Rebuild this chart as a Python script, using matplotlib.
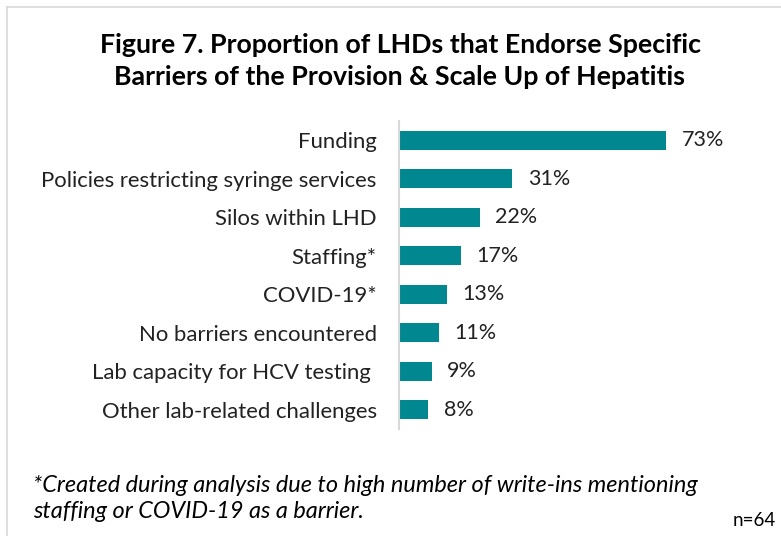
import matplotlib.pyplot as plt
from matplotlib.lines import Line2D

plt.rcParams['font.family'] = ['Lato', 'DejaVu Sans']

categories = ['Funding', 'Policies restricting syringe services', 'Silos within LHD',
              'Staffing*', 'COVID-19*', 'No barriers encountered',
              'Lab capacity for HCV testing ', 'Other lab-related challenges']
values = [73, 31, 22, 17, 13, 11, 9, 8]
bar_color = '#00878F'

W, H = 781, 536
fig = plt.figure(figsize=(W / 100, H / 100), dpi=100)

# axes placed in pixel terms: left edge x=399, 3.66 px per percent
x0, y_top, y_bot = 399, 121, 429
xmax = 80
ax = fig.add_axes([x0 / W, 1 - y_bot / H, xmax * 3.66 / W, (y_bot - y_top) / H])

ypos = list(range(len(categories)))
ax.barh(ypos, values, height=0.5, color=bar_color)
ax.set_ylim(len(categories) - 0.5, -0.5)
ax.set_xlim(0, xmax)
for y, v in zip(ypos, values):
    ax.text(v + 4.2, y, f'{v}%', va='center', ha='left', fontsize=15.5, color='#222222')

ax.set_yticks(ypos)
ax.set_yticklabels(categories, fontsize=15.9, color='#222222')
ax.tick_params(axis='y', length=0, pad=16)
ax.set_xticks([])
for s in ['top', 'right', 'bottom']:
    ax.spines[s].set_visible(False)
ax.spines['left'].set_color('#d9d9d9')
ax.spines['left'].set_linewidth(1.5)

fig.text(400 / W, 1 - 45 / H, 'Figure 7. Proportion of LHDs that Endorse Specific',
         ha='center', va='center', fontsize=19.3, fontweight='bold')
fig.text(400 / W, 1 - 77 / H, 'Barriers of the Provision & Scale Up of Hepatitis',
         ha='center', va='center', fontsize=19.3, fontweight='bold')

fig.text(33 / W, 1 - 485 / H, '*Created during analysis due to high number of write-ins mentioning',
         ha='left', va='center', fontsize=16.9, style='italic')
fig.text(33 / W, 1 - 512 / H, 'staffing or COVID-19 as a barrier.',
         ha='left', va='center', fontsize=16.9, style='italic')
fig.text(776 / W, 1 - 521 / H, 'n=64', ha='right', va='center', fontsize=13.5)

# chart frame (top and left edges visible)
fig.add_artist(Line2D([7 / W, 1], [1 - 7 / H, 1 - 7 / H], color='#d9d9d9', lw=1.2))
fig.add_artist(Line2D([7 / W, 7 / W], [0, 1 - 7 / H], color='#d9d9d9', lw=1.2))

fig.savefig('out.png', dpi=100)
